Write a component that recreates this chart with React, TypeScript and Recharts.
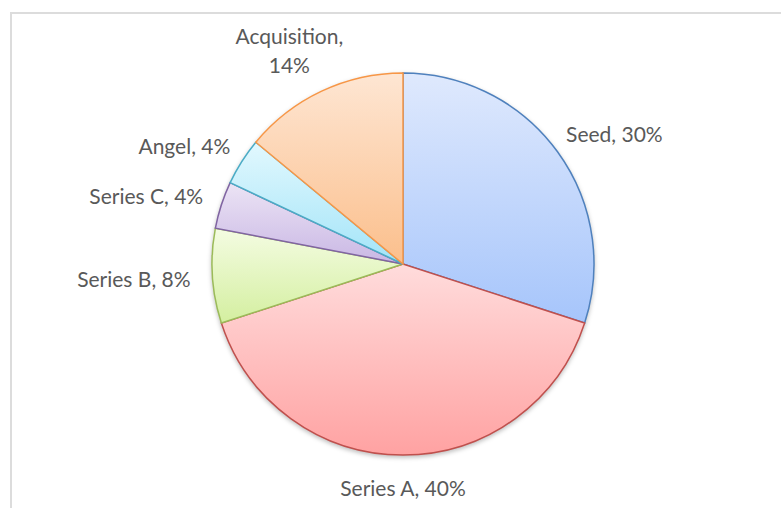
import { PieChart, Pie, Cell } from 'recharts';

// Funding rounds share (percent)
const rounds = ['Seed', 'Series A', 'Series B', 'Series C', 'Angel', 'Acquisition'];
const shares = [30, 40, 8, 4, 4, 14];

// gradient top / bottom and outline per slice
const topColors = ['#dfe9fd', '#ffdcdc', '#f4fce2', '#ece4f5', '#e2f8fe', '#fee6d3'];
const bottomColors = ['#a6c5fb', '#ffa2a2', '#d4efa0', '#c9b7e4', '#a2e4f8', '#fbbf8c'];
const strokes = ['#4f81bd', '#c0504d', '#9bbb59', '#8064a2', '#4bacc6', '#f79646'];

const data = rounds.map((name, i) => ({ name, value: shares[i] }));
const total = shares.reduce((a, b) => a + b, 0);

const FONT = '21px Lato, sans-serif';
const LINE_H = 29;

let ctx: CanvasRenderingContext2D | null = null;
function textWidth(s: string) {
  if (!ctx) ctx = document.createElement('canvas').getContext('2d');
  if (!ctx) return s.length * 10;
  ctx.font = FONT;
  return ctx.measureText(s).width;
}

const RADIAN = Math.PI / 180;

function renderLabel(props: any) {
  const { cx, cy, midAngle, outerRadius, name, value } = props;
  const pct = `${Math.round((value / total) * 100)}%`;
  // long names wrap onto two lines like the original
  const lines = name.length > 10 ? [`${name},`, pct] : [`${name}, ${pct}`];
  const w = Math.max(...lines.map(textWidth));
  const h = (lines.length - 1) * LINE_H + 20;
  const cos = Math.cos(-midAngle * RADIAN);
  const sin = Math.sin(-midAngle * RADIAN);
  const r = outerRadius + 22;
  const px = cx + r * cos;
  const py = cy + r * sin;
  const bx = px + (cos * w) / 2;
  const by = py + (sin * h) / 2;
  const y0 = by - ((lines.length - 1) * LINE_H) / 2;
  return (
    <text
      x={bx}
      y={y0}
      textAnchor="middle"
      dominantBaseline="central"
      fill="#595959"
      style={{ font: FONT }}
    >
      {lines.map((l, i) => (
        <tspan key={i} x={bx} y={y0 + i * LINE_H}>
          {l}
        </tspan>
      ))}
    </text>
  );
}

export default function App() {
  return (
    <div
      style={{
        position: 'fixed',
        left: 0,
        top: 0,
        width: 781,
        height: 508,
        overflow: 'hidden',
        background: '#fff',
      }}
    >
      <style>{`.recharts-pie { filter: drop-shadow(0px 2px 2px rgba(0,0,0,0.25)); }`}</style>
      <div
        style={{
          position: 'absolute',
          left: 10,
          top: 12,
          width: 820,
          height: 540,
          border: '2px solid #dcdcdc',
          boxSizing: 'border-box',
        }}
      />
      <PieChart
        width={781}
        height={508}
        margin={{ top: 0, right: 0, bottom: 0, left: 0 }}
        style={{ position: 'absolute', left: 0, top: 0 }}
      >
        <defs>
          {rounds.map((r, i) => (
            <linearGradient key={r} id={`grad${i}`} x1="0" y1="0" x2="0" y2="1">
              <stop offset="0%" stopColor={topColors[i]} />
              <stop offset="100%" stopColor={bottomColors[i]} />
            </linearGradient>
          ))}
        </defs>
        <Pie
          data={data}
          dataKey="value"
          nameKey="name"
          cx={403}
          cy={264}
          outerRadius={191}
          startAngle={90}
          endAngle={-270}
          label={renderLabel}
          labelLine={false}
          isAnimationActive={false}
        >
          {data.map((d, i) => (
            <Cell key={d.name} fill={`url(#grad${i})`} stroke={strokes[i]} strokeWidth={1.5} />
          ))}
        </Pie>
      </PieChart>
    </div>
  );
}
